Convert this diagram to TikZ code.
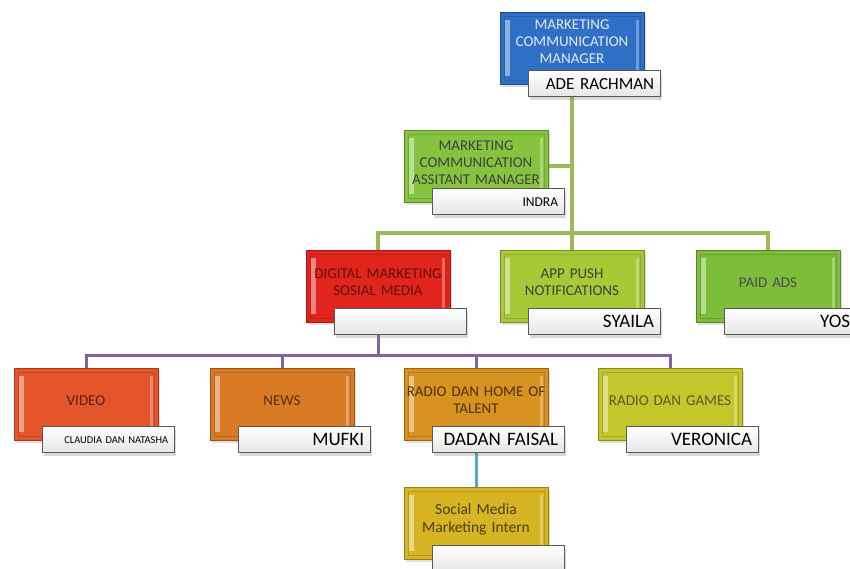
\documentclass[tikz,border=0pt]{standalone}
\usepackage{fontspec}
\setsansfont{Carlito}
\usepackage{tikz}
\usetikzlibrary{positioning}
\usetikzlibrary{backgrounds}
\usetikzlibrary{shadows}

\definecolor{cTop}{HTML}{2F70C6}
\definecolor{cAsst}{HTML}{86C440}
\definecolor{cRed}{HTML}{E1251C}
\definecolor{cApp}{HTML}{A6C935}
\definecolor{cPaid}{HTML}{7DBD3A}
\definecolor{cVideo}{HTML}{E4552B}
\definecolor{cNews}{HTML}{D97A24}
\definecolor{cTalent}{HTML}{D8921F}
\definecolor{cGames}{HTML}{C4C72B}
\definecolor{cIntern}{HTML}{D7B423}
\definecolor{tGames}{HTML}{5A5A30}
\definecolor{lnGreen}{HTML}{9BBB59}
\definecolor{lnPurple}{HTML}{8064A2}
\definecolor{lnAqua}{HTML}{4BACC6}

\newcommand{\liftby}{7pt}

\tikzset{
  unit/.style={rectangle, draw=#1!70!black, line width=0.6pt, fill=#1,
    minimum width=144pt, minimum height=72pt, text width=142pt, inner sep=0pt,
    align=center, font=\sffamily\fontsize{15}{17}\selectfont,
    execute at end node={\par\vspace*{\liftby}},
    drop shadow={opacity=0.25, shadow xshift=2pt, shadow yshift=-3pt},
    path picture={
      \fill[#1!55!white] ([shift={(5pt,8pt)}]path picture bounding box.south west)
        rectangle ([shift={(10pt,-8pt)}]path picture bounding box.north west);
      \fill[#1!70!white] ([shift={(-8pt,8pt)}]path picture bounding box.south east)
        rectangle ([shift={(-5pt,-8pt)}]path picture bounding box.north east);
      \draw[#1!85!black, line width=0.6pt] ([shift={(4pt,4pt)}]path picture bounding box.south west)
        rectangle ([shift={(-4pt,-4pt)}]path picture bounding box.north east);
    }},
  tag/.style={rectangle, draw=black!65, line width=0.8pt,
    top color=white, bottom color=black!10,
    minimum height=26pt, text width=120pt, inner xsep=6pt, inner ysep=0pt,
    align=right, font=\sffamily\fontsize{19}{20}\selectfont,
    drop shadow={opacity=0.3, shadow xshift=2pt, shadow yshift=-3pt}},
  greenline/.style={lnGreen, line width=3.5pt},
  purpleline/.style={lnPurple, line width=3pt},
  aqualine/.style={lnAqua, line width=3pt}
}

\begin{document}
\begin{tikzpicture}[x=1pt, y=1pt]
\useasboundingbox (0,0) rectangle (850,-568);
%%%%%%%%%%%%%%
\node[unit=cTop, text=cTop!15!white, execute at begin node={\renewcommand{\liftby}{12pt}}] (mgr) at (572,-48) {MARKETING\\COMMUNICATION\\MANAGER};
\node[tag, below right=-14pt and 28pt of mgr.south west, font=\sffamily\fontsize{17}{18}\selectfont] (mgrname) {ADE RACHMAN};
%%%%%%%%%%%%%%
\node[unit=cAsst, text=black!75] (asst) at (476,-166) {MARKETING\\COMMUNICATION\\ASSITANT MANAGER};
\node[tag, below right=-14pt and 28pt of asst.south west, font=\sffamily\fontsize{13.5}{14}\selectfont] (asstname) {INDRA};
%%%%%%%%%%%%%%
\node[unit=cRed, text=cRed!45!black] (digital) at (378,-286) {DIGITAL MARKETING\\SOSIAL MEDIA};
\node[tag, below right=-14pt and 28pt of digital.south west] (digitalname) {};
\node[unit=cApp, text=black!75] (app) at (572,-286) {APP PUSH\\NOTIFICATIONS};
\node[tag, below right=-14pt and 28pt of app.south west] (appname) {SYAILA};
\node[unit=cPaid, text=black!70] (paid) at (768,-286) {PAID ADS};
\node[tag, below right=-14pt and 28pt of paid.south west] (paidname) {YOS};
%%%%%%%%%%%%%%
\node[unit=cVideo, text=cVideo!40!black] (video) at (86,-404) {VIDEO};
\node[tag, below right=-14pt and 28pt of video.south west, font=\sffamily\fontsize{10.5}{11}\selectfont] (videoname) {CLAUDIA DAN NATASHA};
\node[unit=cNews, text=cNews!40!black] (news) at (282,-404) {NEWS};
\node[tag, below right=-14pt and 28pt of news.south west] (newsname) {MUFKI};
\node[unit=cTalent, text=cTalent!35!black] (talent) at (476,-404) {RADIO DAN HOME OF\\TALENT};
\node[tag, below right=-14pt and 28pt of talent.south west] (talentname) {DADAN FAISAL};
\node[unit=cGames, text=tGames] (games) at (670,-404) {RADIO DAN GAMES};
\node[tag, below right=-14pt and 28pt of games.south west] (gamesname) {VERONICA};
%%%%%%%%%%%%%%
\node[unit=cIntern, text=cIntern!35!black, font=\sffamily\fontsize{15.5}{18}\selectfont] (intern) at (476,-523) {Social Media\\Marketing Intern};
\node[tag, below right=-14pt and 28pt of intern.south west] (internname) {};
%%%%%%%%%%%%%%
\coordinate (gbus) at (572,-233);
\coordinate (pbus) at (378,-355);

\begin{scope}[on background layer]
\draw[greenline] (mgr) -- (app);
\draw[greenline] (asst) -| (mgr);
\draw[greenline] (digital) |- (gbus) -| (paid);
%%%%%%%%%%%%%%
\draw[purpleline] (digital) -- (pbus);
\draw[purpleline] (video) |- (pbus) -| (games);
\draw[purpleline] (news) -- (news |- pbus);
\draw[purpleline] (talent) -- (talent |- pbus);
%%%%%%%%%%%%%%
\draw[aqualine] (talent) -- (intern);
\end{scope}
\end{tikzpicture}
\end{document}
